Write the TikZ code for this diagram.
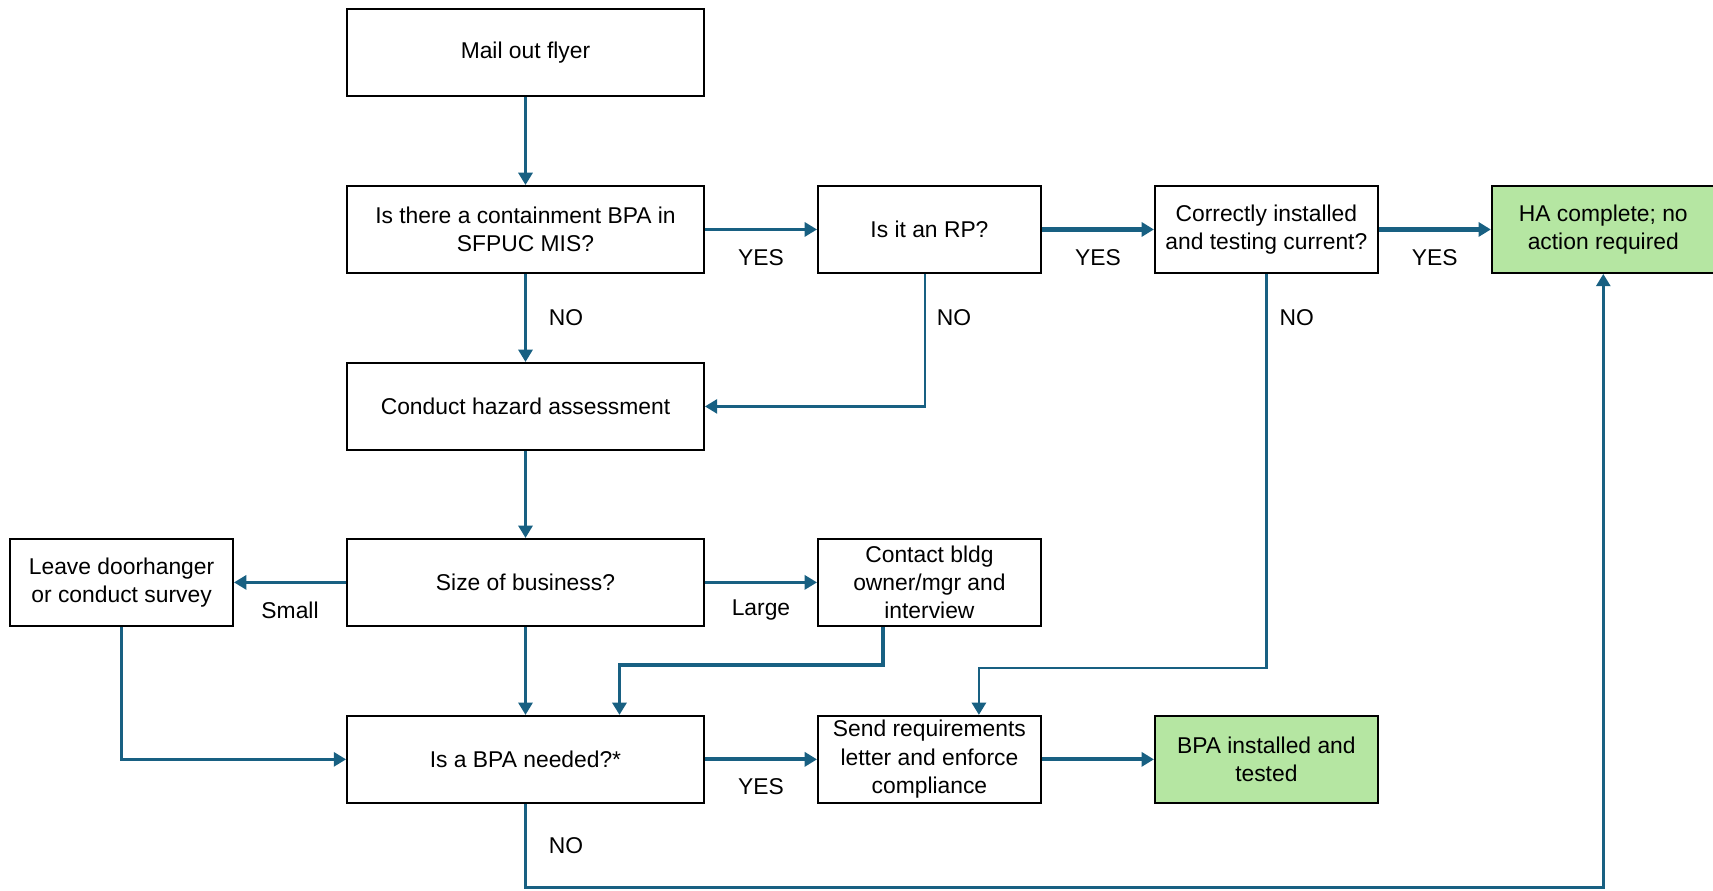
\documentclass[tikz,border=0pt]{standalone}
\usepackage{fontspec}
\setmainfont{Liberation Sans}
\usetikzlibrary{arrows.meta, positioning}
\newcommand{\flowfont}{\fontsize{13}{16.1}\selectfont}
\tikzset{
    boxnode/.style = {draw, rectangle, line width=1.1pt, fill=white, inner sep=0em,
      node distance=0em, align=center, minimum height=1.74cm, font=\flowfont},
    widenode/.style = {boxnode, minimum width=7.14cm},
    narrownode/.style = {boxnode, minimum width=4.46cm},
    greennode/.style = {narrownode, fill=donegreen},
    textnode/.style = {draw=none, fill=none, rectangle, inner sep=0em, text=black, font=\flowfont},
    connect/.style = {flowblue, line width=1.6pt, -{Triangle[length=7pt, width=8pt]}},
    thickconnect/.style = {connect, line width=2.4pt}
}
\definecolor{flowblue}{RGB}{24, 96, 130}
\definecolor{donegreen}{RGB}{181, 230, 162}

\begin{document}
\begin{tikzpicture}[x=0.02cm, y=-0.02cm]
    \useasboundingbox (0,0) rectangle (1713,891);

    \node [widenode, name=mail] at (525.5, 52.5) {Mail out flyer};
    \node [widenode, name=inmis, below of = mail, yshift=-3.54cm] {Is there a containment BPA in\\SFPUC MIS?};
    \node [narrownode, name=isrp, right of = inmis, xshift=8.08cm] {Is it an RP?};
    \node [narrownode, name=current, right of = isrp, xshift=6.74cm] {Correctly installed\\and testing current?};
    \node [greennode, name=nodone, right of = current, xshift=6.74cm] {HA complete; no\\action required};

    \node [widenode, name=hazard, below of = inmis, yshift=-3.54cm] {Conduct hazard assessment};
    \node [widenode, name=size, below of = hazard, yshift=-3.52cm] {Size of business?};
    \node [narrownode, name=leave, left of = size, xshift=-8.08cm] {Leave doorhanger\\or conduct survey};
    \node [narrownode, name=contact, right of = size, xshift=8.08cm] {Contact bldg\\owner/mgr and\\interview};

    \node [widenode, name=bpaneed, below of = size, yshift=-3.54cm] {Is a BPA needed?*};
    \node [narrownode, name=sendletter, right of = bpaneed, xshift=8.08cm] {Send requirements\\letter and enforce\\compliance};
    \node [greennode, name=installed, right of = sendletter, xshift=6.74cm] {BPA installed and\\tested};

    % top row
    \draw [connect] (mail) -- (inmis);
    \draw [connect] (inmis) -- node [textnode, yshift=-0.57cm] {YES} (isrp);
    \draw [thickconnect] (isrp) -- node [textnode, yshift=-0.57cm] {YES} (current);
    \draw [thickconnect] (current) -- node [textnode, yshift=-0.57cm] {YES} (nodone);

    % NO branches
    \draw [connect] (inmis) -- node [textnode, xshift=0.81cm] {NO} (hazard);
    \draw [connect] ([xshift=-0.09cm]isrp.south) |- node [textnode, pos=0.165, xshift=0.58cm] {NO} (hazard.east);
    \draw [connect] (current.south) -- node [textnode, pos=0.11, xshift=0.61cm] {NO} ++(0,394)
      -| ([xshift=0.99cm]sendletter.north);

    % business size
    \draw [connect] (hazard) -- (size);
    \draw [connect] (size) -- node [textnode, yshift=-0.56cm] {Small} (leave);
    \draw [connect] (size) -- node [textnode, yshift=-0.56cm] {Large} (contact);
    \draw [connect] (size) -- (bpaneed);
    \draw [connect, line width=2pt] ([xshift=-0.93cm]contact.south) -- ++(0,38) -| ([xshift=1.88cm]bpaneed.north);
    \draw [connect] (leave.south) |- (bpaneed.west);

    % bottom row
    \draw [thickconnect] (bpaneed) -- node [textnode, yshift=-0.54cm] {YES} (sendletter);
    \draw [thickconnect] (sendletter) -- (installed);
    \draw [connect] (bpaneed.south) -- node [textnode, xshift=0.81cm] {NO} ++(0,84) -| (nodone.south);
\end{tikzpicture}
\end{document}
